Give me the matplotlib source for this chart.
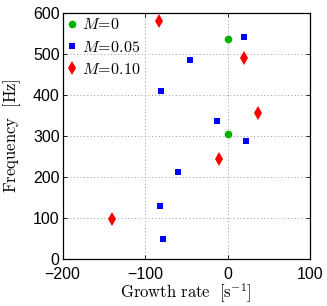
import matplotlib
matplotlib.use("Agg")
import matplotlib.pyplot as plt

plt.rcParams['font.family'] = ['Liberation Sans', 'DejaVu Sans']
plt.rcParams['mathtext.fontset'] = 'cm'

m0_growth = [0, 0]
m0_freq = [537, 305]

m005_growth = [20, -45, -81, -13, 22, -60, -82, -78]
m005_freq = [542, 486, 409, 336, 287, 212, 130, 49]

m010_growth = [-83, 20, 37, -10, -140]
m010_freq = [580, 489, 356, 245, 97]

fig = plt.figure(figsize=(3.27, 3.06), dpi=100)
ax = fig.add_axes([62.5/327, 1-259.3/306, 247.5/327, 246.6/306])

ax.plot(m0_growth, m0_freq, 'o', color='#00b000', markersize=5.5, markeredgewidth=0, label=r'$M\!=\!0$', zorder=3)
ax.plot(m005_growth, m005_freq, 's', color='#0000ff', markersize=4.8, markeredgewidth=0, label=r'$M\!=\!0.05$', zorder=3)
ax.plot(m010_growth, m010_freq, 'd', color='#ff0000', markersize=7.5, markeredgewidth=0, label=r'$M\!=\!0.10$', zorder=3)

ax.set_xlim(-200, 100)
ax.set_ylim(0, 600)
ax.set_xticks([-200, -100, 0, 100])
ax.set_yticks([0, 100, 200, 300, 400, 500, 600])
ax.tick_params(direction='in', top=True, right=True, labelsize=11.5, length=3, width=0.6)
ax.tick_params(axis='x', pad=5.5)
ax.tick_params(axis='y', pad=2)
ax.grid(True, linestyle=(0, (1, 2.5)), color='#999999', linewidth=0.7)
for s in ax.spines.values():
    s.set_linewidth(0.9)

ax.set_xlabel(r'$\mathrm{Growth\ rate}\ \ [\mathrm{s}^{-1}]$', fontsize=12, labelpad=0)
ax.set_ylabel(r'$\mathrm{Frequency}\ \ [\mathrm{Hz}]$', fontsize=12, labelpad=7)

leg = ax.legend(loc='upper left', frameon=False, fontsize=11.5, handletextpad=0.3,
                handlelength=0.6, borderaxespad=0.0, labelspacing=0.45, borderpad=0.3)

fig.savefig('out.png', dpi=100)
